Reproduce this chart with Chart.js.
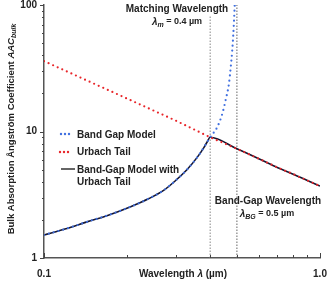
<!DOCTYPE html>
<html><head><meta charset="utf-8">
<script src="https://cdn.jsdelivr.net/npm/chart.js@4.4.0/dist/chart.umd.min.js"></script>
<style>html,body{margin:0;padding:0;background:#fff;}#wrap{width:328px;height:283px;}</style>
</head><body><div id="wrap"><canvas id="c" width="328" height="283"></canvas></div>
<script>
// ---- data ----
const bandGapLambda = [0.1, 0.12, 0.143, 0.17, 0.205, 0.24, 0.272, 0.30, 0.33, 0.36, 0.38, 0.39, 0.40, 0.425, 0.443, 0.455, 0.468, 0.475, 0.481, 0.485, 0.488, 0.491];
const bandGapAAC    = [1.52, 1.70, 1.93, 2.17, 2.53, 2.95, 3.44, 4.1, 5.0, 6.3, 7.5, 8.26, 9.0, 10.9, 13.9, 17.7, 24, 32.5, 44, 58, 75, 100];
const urbachLambda  = [0.1, 0.2, 0.3, 0.4, 0.5, 0.6, 0.7, 0.8, 0.9, 1.0];
const urbachAAC     = [36, 18.2, 12.2, 9.0, 7.3, 6.1, 5.2, 4.6, 4.1, 3.7];
const combinedLambda = [0.1, 0.12, 0.143, 0.17, 0.205, 0.24, 0.272, 0.30, 0.33, 0.36, 0.38, 0.39, 0.40, 0.5, 0.6, 0.7, 0.8, 0.9, 1.0];
const combinedAAC    = [1.52, 1.70, 1.93, 2.17, 2.53, 2.95, 3.44, 4.1, 5.0, 6.3, 7.5, 8.26, 9.0, 7.3, 6.1, 5.2, 4.6, 4.1, 3.7];
const matchingLine = {lambda: [0.4, 0.4], aac: [1, 83]};
const bandGapLine  = {lambda: [0.5, 0.5], aac: [1, 100]};
const xTickLabels = {0.1: '0.1', 1: '1.0'};
const yTickLabels = {1: '1', 10: '10', 100: '100'};
const legendLabels = ['Band Gap Model', 'Urbach Tail', 'Band-Gap Model with', 'Urbach Tail'];

const pts = (xs, ys) => xs.map((x, i) => ({x, y: ys[i]}));
const FONT = '"Liberation Sans", Arial, sans-serif';
const TXT = '#222';
const BLUE = '#3f6fe0', RED = '#e8262a';

function isDecade(v){ const l = Math.log10(v); return Math.abs(l - Math.round(l)) < 1e-6; }

function richText(ctx, segs, x, y, align){
  let w = 0;
  segs.forEach(s => { ctx.font = (s.italic ? 'italic ' : '') + 'bold ' + s.size + 'px ' + FONT; s.w = ctx.measureText(s.t).width; w += s.w; });
  let cx = align === 'center' ? x - w/2 : x;
  segs.forEach(s => { ctx.font = (s.italic ? 'italic ' : '') + 'bold ' + s.size + 'px ' + FONT; ctx.fillText(s.t, cx, y + (s.dy||0)); cx += s.w; });
}

const deco = {
  id: 'deco',
  afterDraw(chart){
    const ctx = chart.ctx, xs = chart.scales.x, ys = chart.scales.y, a = chart.chartArea;
    ctx.save();
    ctx.strokeStyle = '#444'; ctx.lineWidth = 1;
    for (let e = 0; e < 2; e++) for (let m = 1; m <= 10; m++) {
      const v = m * Math.pow(10, e); const py = Math.round(ys.getPixelForValue(v)) + 0.5;
      const len = (m === 1 || m === 10) ? 4 : 2;
      ctx.beginPath(); ctx.moveTo(a.left - len, py); ctx.lineTo(a.left, py); ctx.stroke();
    }
    for (let m = 1; m <= 10; m++) {
      const v = m / 10; const px = Math.round(xs.getPixelForValue(v)) + 0.5;
      const len = (m === 1 || m === 10) ? 5 : 3;
      ctx.beginPath(); ctx.moveTo(px, a.bottom); ctx.lineTo(px, a.bottom - len); ctx.stroke();
    }
    ctx.fillStyle = TXT; ctx.textBaseline = 'middle';
    richText(ctx, [{t:'Matching Wavelength', size:10}], 177, 9, 'center');
    richText(ctx, [{t:'λ', size:10, italic:true},{t:'m', size:7, italic:true, dy:3},{t:' = 0.4 µm', size:9}], 177, 22, 'center');
    richText(ctx, [{t:'Band-Gap Wavelength', size:10}], 268, 201, 'center');
    richText(ctx, [{t:'λ', size:10, italic:true},{t:'BG', size:7, italic:true, dy:3},{t:' = 0.5 µm', size:9}], 267, 214, 'center');
    richText(ctx, [{t:'Wavelength ', size:10},{t:'λ', size:10, italic:true},{t:' (µm)', size:10}], 183, 274, 'center');
    ctx.save(); ctx.translate(11, 129); ctx.rotate(-Math.PI/2);
    richText(ctx, [{t:'Bulk Absorption Ångström Coefficient ', size:9.5},{t:'AAC', size:9.5, italic:true},{t:'bulk', size:7, italic:true, dy:3}], 0, 0, 'center');
    ctx.restore();
    const lx = 77;
    ctx.fillStyle = BLUE; [61,65,69].forEach(x => { ctx.beginPath(); ctx.arc(x, 134, 1.2, 0, 2*Math.PI); ctx.fill(); });
    ctx.fillStyle = RED; [60,64,68].forEach(x => { ctx.beginPath(); ctx.arc(x, 152, 1.2, 0, 2*Math.PI); ctx.fill(); });
    ctx.strokeStyle = '#111'; ctx.lineWidth = 1.3; ctx.beginPath(); ctx.moveTo(61, 169); ctx.lineTo(75, 169); ctx.stroke();
    ctx.fillStyle = TXT;
    richText(ctx, [{t:legendLabels[0], size:10}], lx, 135, 'left');
    richText(ctx, [{t:legendLabels[1], size:10}], lx, 152, 'left');
    richText(ctx, [{t:legendLabels[2], size:10}], lx, 170, 'left');
    richText(ctx, [{t:legendLabels[3], size:10}], lx, 182, 'left');
    ctx.restore();
  }
};

new Chart(document.getElementById('c'), {
  type: 'line',
  data: {
    datasets: [
      {label: 'Band Gap Model', data: pts(bandGapLambda, bandGapAAC), borderColor: BLUE, borderWidth: 2.2, borderDash: [0, 5], borderCapStyle: 'round', pointRadius: 0, cubicInterpolationMode: 'monotone', order: 0},
      {label: 'Urbach Tail', data: pts(urbachLambda, urbachAAC), borderColor: RED, borderWidth: 2.2, borderDash: [0, 5], borderCapStyle: 'round', pointRadius: 0, order: 1},
      {label: 'Band-Gap Model with Urbach Tail', data: pts(combinedLambda, combinedAAC), borderColor: '#161630', borderWidth: 1.6, pointRadius: 0, cubicInterpolationMode: 'monotone', order: 2},
      {label: 'Matching', data: pts(matchingLine.lambda, matchingLine.aac), borderColor: '#888', borderWidth: 1, borderDash: [1.5, 1.5], pointRadius: 0, order: 3},
      {label: 'Band gap', data: pts(bandGapLine.lambda, bandGapLine.aac), borderColor: '#666', borderWidth: 1, borderDash: [1.5, 1.5], pointRadius: 0, order: 4}
    ]
  },
  options: {
    responsive: false, animation: false, devicePixelRatio: 1,
    layout: {padding: {top: 5, right: 8, left: 0, bottom: 0}},
    plugins: {legend: {display: false}, tooltip: {enabled: false}},
    scales: {
      x: {type: 'logarithmic', min: 0.1, max: 1,
        grid: {display: false, drawTicks: false},
        border: {display: true, color: '#555', width: 1.5},
        ticks: {autoSkip: false, maxRotation: 0, padding: 10, color: TXT, font: {family: FONT, size: 10, weight: 'bold'},
          callback: (v) => { for (const k in xTickLabels) if (Math.abs(v - Number(k)) < 1e-9) return xTickLabels[k]; return ''; }},
        afterFit: (s) => { s.height = 25; s.paddingLeft = 0; s.paddingRight = 0; }},
      y: {type: 'logarithmic', min: 1, max: 100,
        grid: {display: false, drawTicks: false},
        border: {display: true, color: '#555', width: 1.5},
        ticks: {autoSkip: false, padding: 7, color: TXT, font: {family: FONT, size: 10, weight: 'bold'},
          callback: (v) => (isDecade(v) && yTickLabels[Math.round(v)]) ? yTickLabels[Math.round(v)] : ''},
        afterFit: (s) => { s.width = 44; s.paddingTop = 0; s.paddingBottom = 0; }}
    }
  },
  plugins: [deco]
});
</script></body></html>
